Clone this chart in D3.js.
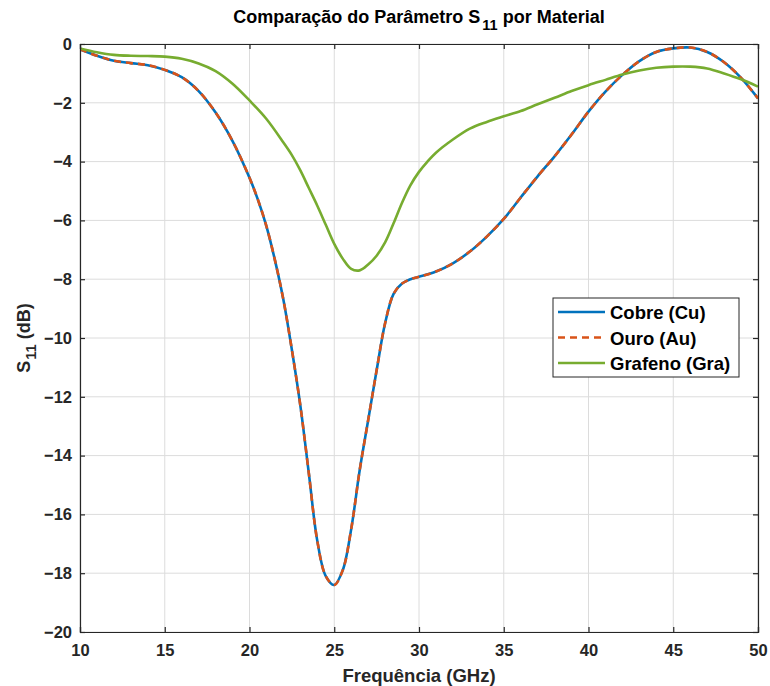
<!DOCTYPE html>
<html>
<head>
<meta charset="utf-8">
<script src="https://cdn.jsdelivr.net/npm/d3@7"></script>
<style>
  html, body { margin: 0; padding: 0; background: #fff; }
  svg { display: block; font-family: "Liberation Sans", Arial, Helvetica, sans-serif; }
</style>
</head>
<body>
<svg id="chart" width="770" height="686"></svg>
<script>
// Frequency samples (GHz) and S11 (dB) for each material
const freqCu = [10, 11, 12, 13, 14, 15, 16, 17, 18, 19, 20, 20.5, 21, 21.5, 22, 22.5, 23, 23.5, 24, 24.5, 25,
  25.5, 26, 26.5, 27, 27.5, 28, 28.5, 29, 29.5, 30, 31, 32, 33, 34, 35, 36, 37, 38, 39, 40, 41, 42, 43, 44, 45, 46,
  47, 48, 49, 50];
const sCu = [-0.18, -0.40, -0.57, -0.65, -0.72, -0.88, -1.13, -1.60, -2.33, -3.30, -4.55, -5.30, -6.20, -7.35,
  -8.70, -10.40, -12.30, -14.60, -16.90, -18.10, -18.4, -17.9, -16.5, -14.5, -12.8, -11.1, -9.5, -8.5, -8.15, -8.0,
  -7.92, -7.74, -7.46, -7.06, -6.55, -5.95, -5.22, -4.50, -3.82, -3.08, -2.30, -1.62, -1.05, -0.58, -0.27, -0.15,
  -0.12, -0.27, -0.62, -1.15, -1.85];

const freqAu = freqCu.slice();
const sAu = [-0.18, -0.40, -0.57, -0.65, -0.72, -0.88, -1.13, -1.60, -2.33, -3.30, -4.55, -5.30, -6.20, -7.35,
  -8.70, -10.40, -12.30, -14.60, -16.90, -18.10, -18.4, -17.9, -16.5, -14.5, -12.8, -11.1, -9.5, -8.5, -8.15, -8.0,
  -7.92, -7.74, -7.46, -7.06, -6.55, -5.95, -5.22, -4.50, -3.82, -3.08, -2.30, -1.62, -1.05, -0.58, -0.27, -0.15,
  -0.12, -0.27, -0.62, -1.15, -1.85];

const freqGra = [10, 11, 12, 13, 14, 15, 16, 17, 18, 19, 20, 21, 22, 22.5, 23, 23.5, 24, 24.5, 25, 25.5, 26, 26.5,
  27, 27.5, 28, 28.5, 29, 29.5, 30, 30.5, 31, 32, 33, 34, 35, 36, 37, 38, 39, 40, 41, 42, 43, 44, 45, 46, 47, 48,
  49, 50];
const sGra = [-0.15, -0.28, -0.37, -0.40, -0.41, -0.43, -0.50, -0.66, -0.92, -1.35, -1.92, -2.55, -3.35, -3.78,
  -4.30, -4.90, -5.50, -6.15, -6.80, -7.30, -7.65, -7.70, -7.50, -7.20, -6.75, -6.10, -5.40, -4.80, -4.35, -4.00,
  -3.70, -3.25, -2.88, -2.65, -2.46, -2.28, -2.05, -1.83, -1.60, -1.40, -1.22, -1.04, -0.90, -0.81, -0.77, -0.77,
  -0.83, -1.00, -1.20, -1.45];

const xTicks = [10, 15, 20, 25, 30, 35, 40, 45, 50];
const yTicks = [0, -2, -4, -6, -8, -10, -12, -14, -16, -18, -20];

const seriesNames = ["Cobre (Cu)", "Ouro (Au)", "Grafeno (Gra)"];
const seriesColors = ["#0072BD", "#D95319", "#77AC30"];

const svg = d3.select("#chart");
const plot = { left: 80, right: 758, top: 44, bottom: 632 };

const x = d3.scaleLinear().domain([10, 50]).range([plot.left, plot.right]);
const y = d3.scaleLinear().domain([-20, 0]).range([plot.bottom, plot.top]);

const ink = "#262626";

// grid
const grid = svg.append("g");
grid.selectAll("line.gx").data(xTicks).join("line")
  .attr("x1", d => x(d)).attr("x2", d => x(d))
  .attr("y1", plot.top).attr("y2", plot.bottom)
  .attr("stroke", "#dcdcdc").attr("stroke-width", 1);
grid.selectAll("line.gy").data(yTicks).join("line")
  .attr("y1", d => y(d)).attr("y2", d => y(d))
  .attr("x1", plot.left).attr("x2", plot.right)
  .attr("stroke", "#dcdcdc").attr("stroke-width", 1);

// curves
const clipId = "plotClip";
svg.append("clipPath").attr("id", clipId).append("rect")
  .attr("x", plot.left).attr("y", plot.top - 2)
  .attr("width", plot.right - plot.left).attr("height", plot.bottom - plot.top + 4);

const line = d3.line().x(d => x(d[0])).y(d => y(d[1])).curve(d3.curveCatmullRom.alpha(0.5));
const zipped = (fs, vs) => fs.map((f, i) => [f, vs[i]]);

const curves = svg.append("g").attr("clip-path", `url(#${clipId})`);
curves.append("path").attr("d", line(zipped(freqCu, sCu)))
  .attr("fill", "none").attr("stroke", seriesColors[0]).attr("stroke-width", 2.6);
curves.append("path").attr("d", line(zipped(freqAu, sAu)))
  .attr("fill", "none").attr("stroke", seriesColors[1]).attr("stroke-width", 2.6)
  .attr("stroke-dasharray", "7,5");
curves.append("path").attr("d", line(zipped(freqGra, sGra)))
  .attr("fill", "none").attr("stroke", seriesColors[2]).attr("stroke-width", 2.6);

// axes (ticks inside, box on all four sides)
const tickLen = 5;
const fmt = d3.format("d");
const axB = svg.append("g").attr("transform", `translate(0,${plot.bottom})`)
  .call(d3.axisBottom(x).tickValues(xTicks).tickSize(-tickLen).tickPadding(12).tickFormat(fmt));
const axT = svg.append("g").attr("transform", `translate(0,${plot.top})`)
  .call(d3.axisTop(x).tickValues(xTicks).tickSize(-tickLen).tickFormat(""));
const axL = svg.append("g").attr("transform", `translate(${plot.left},0)`)
  .call(d3.axisLeft(y).tickValues(yTicks).tickSize(-tickLen).tickPadding(8).tickFormat(fmt));
const axR = svg.append("g").attr("transform", `translate(${plot.right},0)`)
  .call(d3.axisRight(y).tickValues(yTicks).tickSize(-tickLen).tickFormat(""));

[axB, axT, axL, axR].forEach(a => {
  a.select(".domain").attr("stroke", ink).attr("stroke-width", 1.2);
  a.selectAll(".tick line").attr("stroke", ink).attr("stroke-width", 1.2);
  a.selectAll(".tick text").attr("fill", ink).attr("font-size", 16.5).attr("font-weight", "bold");
});

// title
const title = svg.append("text")
  .attr("x", (plot.left + plot.right) / 2).attr("y", 23)
  .attr("text-anchor", "middle").attr("font-size", 18).attr("font-weight", "bold").attr("fill", "#000");
title.append("tspan").text("Comparação do Parâmetro S");
title.append("tspan").attr("font-size", 14.5).attr("dy", 7).attr("dx", 2).text("11");
title.append("tspan").attr("dy", -7).text(" por Material");

// x label
svg.append("text")
  .attr("x", (plot.left + plot.right) / 2).attr("y", 682)
  .attr("text-anchor", "middle").attr("font-size", 18.5).attr("font-weight", "bold").attr("fill", ink)
  .text("Frequência (GHz)");

// y label
const yl = svg.append("text")
  .attr("transform", `translate(30,${(plot.top + plot.bottom) / 2}) rotate(-90)`)
  .attr("text-anchor", "middle").attr("font-size", 18).attr("font-weight", "bold").attr("fill", ink);
yl.append("tspan").text("S");
yl.append("tspan").attr("font-size", 14.5).attr("dy", 6).attr("dx", 1).text("11");
yl.append("tspan").attr("dy", -6).text(" (dB)");

// legend
const lg = svg.append("g").attr("transform", "translate(553,298)");
lg.append("rect").attr("width", 186).attr("height", 79)
  .attr("fill", "#fff").attr("stroke", ink).attr("stroke-width", 1);
seriesNames.forEach((name, i) => {
  const cy = 14 + i * 25.5;
  lg.append("line").attr("x1", 5).attr("x2", 52).attr("y1", cy).attr("y2", cy)
    .attr("stroke", seriesColors[i]).attr("stroke-width", 2.6)
    .attr("stroke-dasharray", i === 1 ? "7,5" : null);
  lg.append("text").attr("x", 57).attr("y", cy + 7)
    .attr("font-size", 18.5).attr("font-weight", "bold").attr("fill", "#000").text(name);
});
</script>
</body>
</html>
